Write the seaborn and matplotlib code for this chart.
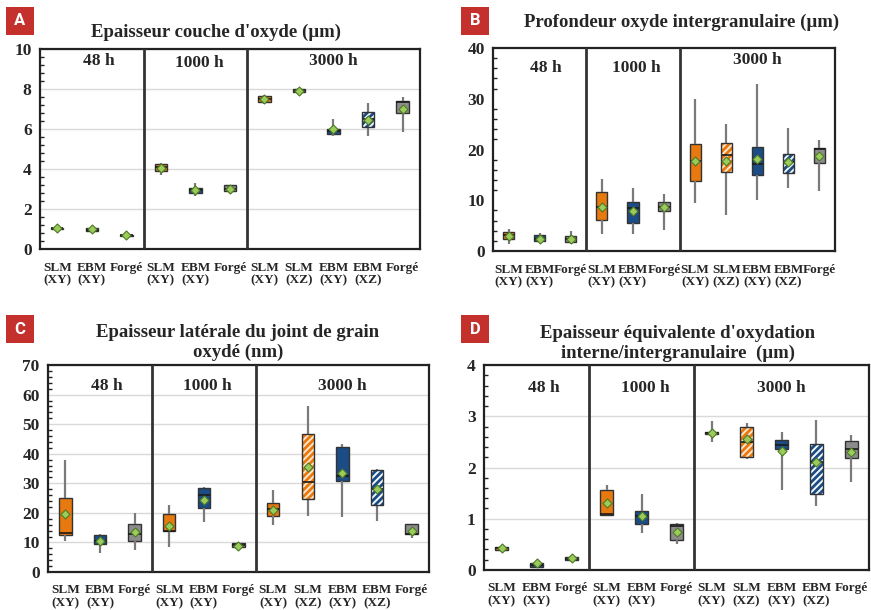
import numpy as np
import pandas as pd

import matplotlib
matplotlib.use('Agg')
import matplotlib.pyplot as plt
from matplotlib.patches import Rectangle
from matplotlib.ticker import MultipleLocator, AutoMinorLocator
import seaborn as sns

# =========================
#  DATA
# =========================

CATEGORIES = ['48h SLM XY', '48h EBM XY', '48h Forge',
              '1000h SLM XY', '1000h EBM XY', '1000h Forge',
              '3000h SLM XY', '3000h SLM XZ', '3000h EBM XY', '3000h EBM XZ', '3000h Forge']
KINDS = ['SLM', 'EBM', 'FOR', 'SLM', 'EBM', 'FOR', 'SLM', 'SLMXZ', 'EBM', 'EBMXZ', 'FOR']
TICK_LABELS = ['SLM\n(XY)', 'EBM\n(XY)', 'Forgé', 'SLM\n(XY)', 'EBM\n(XY)', 'Forgé',
               'SLM\n(XY)', 'SLM\n(XZ)', 'EBM\n(XY)', 'EBM\n(XZ)', 'Forgé']
PERIODS = ['48 h', '1000 h', '3000 h']

# panel A - epaisseur couche d'oxyde (um)
A_min = [1.0, 0.9, 0.63, 3.72, 2.63, 2.75, 7.25, 7.72, 5.67, 5.63, 5.85]
A_q1 = [1.0, 0.9, 0.65, 3.88, 2.8, 2.88, 7.35, 7.83, 5.77, 6.1, 6.8]
A_med = [1.03, 0.97, 0.7, 4.1, 2.95, 3.0, 7.5, 7.9, 5.9, 6.5, 7.35]
A_q3 = [1.07, 1.03, 0.72, 4.25, 3.03, 3.2, 7.63, 8.0, 6.0, 6.85, 7.38]
A_max = [1.1, 1.08, 0.75, 4.28, 3.3, 3.22, 7.68, 8.02, 6.5, 7.3, 7.6]
A_mean = [1.03, 0.98, 0.7, 4.05, 2.97, 3.02, 7.5, 7.9, 5.98, 6.45, 6.98]

# panel B - profondeur oxyde intergranulaire (um)
B_min = [1.45, 1.6, 1.45, 3.4, 3.4, 4.2, 9.5, 7.0, 10.0, 12.5, 11.8]
B_q1 = [2.44, 2.0, 1.8, 6.06, 5.53, 7.9, 13.8, 15.6, 15.0, 15.3, 17.25]
B_med = [3.1, 2.4, 2.4, 8.7, 8.5, 8.6, 17.8, 19.0, 17.1, 17.5, 20.1]
B_q3 = [3.75, 3.1, 2.9, 11.66, 9.68, 9.68, 21.0, 21.3, 20.5, 19.2, 20.35]
B_max = [4.4, 3.55, 3.9, 14.1, 12.45, 11.2, 29.9, 25.0, 33.0, 24.3, 21.9]
B_mean = [3.0, 2.4, 2.3, 8.6, 7.9, 8.6, 17.8, 17.7, 18.1, 17.5, 18.7]

# panel C - epaisseur laterale du joint de grain oxyde (nm)
C_min = [10.4, 6.5, 7.3, 8.4, 16.9, 8.1, 16.0, 19.1, 18.6, 17.2, 11.5]
C_q1 = [12.4, 9.3, 10.35, 13.7, 21.7, 8.4, 18.9, 24.8, 30.7, 22.8, 12.9]
C_med = [13.05, 10.6, 12.7, 14.0, 26.1, 9.0, 21.4, 30.4, 32.4, 28.0, 13.0]
C_q3 = [25.0, 12.6, 16.2, 19.6, 28.5, 9.8, 23.3, 46.7, 42.2, 34.4, 16.2]
C_max = [37.9, 12.8, 20.0, 22.5, 28.6, 10.0, 27.6, 56.0, 43.3, 34.9, 16.3]
C_mean = [19.5, 10.6, 13.4, 15.6, 24.4, 8.8, 21.1, 35.5, 33.4, 28.2, 14.0]

# panel D - epaisseur equivalente d'oxydation (um)
D_min = [0.38, 0.06, 0.19, 1.07, 0.73, 0.5, 2.49, 2.17, 1.57, 1.25, 1.72]
D_q1 = [0.39, 0.065, 0.2, 1.07, 0.9, 0.58, 2.66, 2.21, 2.37, 1.48, 2.18]
D_med = [0.42, 0.1, 0.22, 1.1, 1.05, 0.85, 2.68, 2.5, 2.44, 2.1, 2.36]
D_q3 = [0.455, 0.14, 0.25, 1.56, 1.16, 0.89, 2.7, 2.8, 2.54, 2.45, 2.52]
D_max = [0.46, 0.2, 0.26, 1.66, 1.48, 0.92, 2.91, 2.86, 2.7, 2.93, 2.63]
D_mean = [0.42, 0.13, 0.23, 1.3, 1.06, 0.74, 2.68, 2.55, 2.33, 2.1, 2.3]

ORANGE = '#E8790F'
BLUE = '#1B4C86'
GREY = '#8C8C8C'
KIND_COLORS = {'SLM': ORANGE, 'EBM': BLUE, 'FOR': GREY, 'SLMXZ': '#FDE6CC', 'EBMXZ': '#F4F8FC'}

SERIF = 'Liberation Serif'

# =========================
#  HELPERS
# =========================

def stats_frame(mins, q1s, meds, q3s, maxs):
    # 5 points per category -> quartiles land exactly on q1/med/q3
    rows = []
    for cat, vals in zip(CATEGORIES, zip(mins, q1s, meds, q3s, maxs)):
        for v in vals:
            rows.append((cat, v))
    return pd.DataFrame(rows, columns=['cat', 'value'])


def draw_panel(ax, stats, means, ymax, ystep, grid, title_ypos):
    df = stats_frame(*stats)
    palette = {c: KIND_COLORS[k] for c, k in zip(CATEGORIES, KINDS)}

    sns.boxplot(data=df, x='cat', y='value', hue='cat', order=CATEGORIES,
                hue_order=CATEGORIES, palette=palette, width=0.36, whis=(0, 100),
                showcaps=False, showfliers=False, legend=False, saturation=1,
                linewidth=1.0, linecolor='#333333',
                whiskerprops={'color': '#7a7a7a', 'linewidth': 1.6},
                medianprops={'color': '#1a1a1a', 'linewidth': 1.2},
                ax=ax)

    # hatched boxes for the XZ orientation (+ dark outline on top)
    for p in list(ax.patches):
        ext = p.get_path().get_extents(p.get_transform() - ax.transData)
        idx = int(round((ext.x0 + ext.x1) / 2))
        if 0 <= idx < len(KINDS) and KINDS[idx] in ('SLMXZ', 'EBMXZ'):
            col = ORANGE if KINDS[idx] == 'SLMXZ' else BLUE
            p.set_edgecolor(col)
            p.set_linewidth(0)
            p.set_hatch('/////')
            ax.add_patch(Rectangle((ext.x0, ext.y0), ext.width, ext.height,
                                   facecolor='none', edgecolor='#333333',
                                   linewidth=1.0, zorder=p.get_zorder() + 0.1))

    mean_df = pd.DataFrame({'cat': CATEGORIES, 'mean': means})
    sns.stripplot(data=mean_df, x='cat', y='mean', order=CATEGORIES, jitter=False,
                  marker='D', size=4.6, color='#9BCB5A', edgecolor='#4E7A26',
                  linewidth=0.8, zorder=6, ax=ax)

    ax.set_xlim(-0.5, len(CATEGORIES) - 0.5)
    ax.set_ylim(0, ymax)
    ax.set_xlabel('')
    ax.set_ylabel('')

    ax.set_xticks(range(len(CATEGORIES)))
    ax.set_xticklabels(TICK_LABELS, fontsize=9.5, fontweight='bold', family=SERIF,
                       linespacing=1.05)
    ax.set_xticks(np.arange(0.5, len(CATEGORIES) - 1, 1.0), minor=True)
    ax.tick_params(axis='x', which='major', length=0, pad=9)
    ax.tick_params(axis='x', which='minor', length=5, width=1.2, direction='in',
                   color='#222222')

    ax.yaxis.set_major_locator(MultipleLocator(ystep))
    ax.yaxis.set_minor_locator(AutoMinorLocator(5))
    ax.tick_params(axis='y', which='major', length=5, width=1.2, direction='in',
                   labelsize=12.5, pad=6, color='#222222')
    ax.tick_params(axis='y', which='minor', length=3, width=1.0, direction='in',
                   color='#222222', left=True)
    for lab in ax.get_yticklabels():
        lab.set_fontweight('bold')
        lab.set_family(SERIF)

    if grid:
        ax.yaxis.grid(True, color='#d9d9d9', linewidth=1.0)
    else:
        ax.yaxis.grid(False)
    ax.xaxis.grid(False)
    ax.set_axisbelow(True)

    for sp in ax.spines.values():
        sp.set_visible(True)
        sp.set_color('#222222')
        sp.set_linewidth(1.6)

    for xs in (2.5, 5.5):
        ax.axvline(xs, color='#333333', linewidth=2.0, zorder=3)

    for xp, txt, yp in zip([1.2, 4.1, 8.0], PERIODS, title_ypos):
        ax.text(xp, yp, txt, transform=ax.get_xaxis_transform(), ha='center',
                va='center', fontsize=12.5, fontweight='bold', family=SERIF)


def badge(fig, x0, y0, letter):
    w, h = 28 / 871, 28 / 610
    fig.add_artist(Rectangle((x0, y0), w, h, transform=fig.transFigure,
                             facecolor='#C4302B', edgecolor='none'))
    fig.text(x0 + w / 2, y0 + h / 2, letter, ha='center', va='center', color='white',
             fontsize=12, fontweight='bold', family='Roboto')


# =========================
#  MAIN
# =========================

def main():
    sns.set_theme(style='white')
    plt.rcParams['hatch.linewidth'] = 2.0

    fig = plt.figure(figsize=(8.71, 6.10), dpi=100)

    ax_a = fig.add_axes([0.0459, 0.5918, 0.4361, 0.3279])
    ax_b = fig.add_axes([0.566, 0.5885, 0.3927, 0.3328])
    ax_c = fig.add_axes([0.0551, 0.0623, 0.4374, 0.3393])
    ax_d = fig.add_axes([0.5557, 0.0656, 0.4420, 0.3360])

    draw_panel(ax_a, (A_min, A_q1, A_med, A_q3, A_max), A_mean, 10, 2, True,
               [0.94, 0.93, 0.94])
    draw_panel(ax_b, (B_min, B_q1, B_med, B_q3, B_max), B_mean, 40, 10, False,
               [0.90, 0.90, 0.94])
    draw_panel(ax_c, (C_min, C_q1, C_med, C_q3, C_max), C_mean, 70, 10, True,
               [0.90, 0.90, 0.90])
    draw_panel(ax_d, (D_min, D_q1, D_med, D_q3, D_max), D_mean, 4, 1, True,
               [0.89, 0.89, 0.89])

    title_kw = dict(ha='center', va='center', fontsize=13.5, fontweight='bold',
                    family=SERIF, linespacing=1.2)
    fig.text(0.248, 0.9475, "Epaisseur couche d'oxyde (µm)", **title_kw)
    fig.text(0.782, 0.964, 'Profondeur oxyde intergranulaire (µm)', **title_kw)
    fig.text(0.273, 0.4393, 'Epaisseur latérale du joint de grain\noxydé (nm)', **title_kw)
    fig.text(0.778, 0.437, "Epaisseur équivalente d'oxydation\ninterne/intergranulaire  (µm)",
             **title_kw)

    badge(fig, 6 / 871, 1 - 35 / 610, 'A')
    badge(fig, 461 / 871, 1 - 35 / 610, 'B')
    badge(fig, 6 / 871, 1 - 343 / 610, 'C')
    badge(fig, 461 / 871, 1 - 343 / 610, 'D')

    fig.savefig('out.png', dpi=100)
    plt.close(fig)


if __name__ == '__main__':
    main()
